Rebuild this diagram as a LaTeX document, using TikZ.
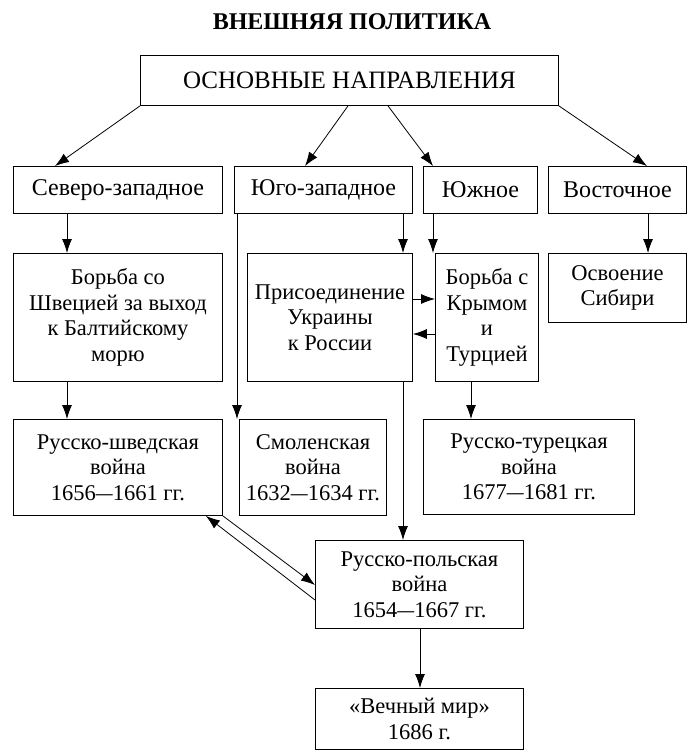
\documentclass[tikz,border=0pt]{standalone}
\usepackage{fontspec}
\usepackage{graphicx}
\setmainfont{Liberation Serif}
\usetikzlibrary{arrows.meta}
\newcommand{\ydash}{\scalebox{0.75}[1]{—}}
\begin{document}
\begin{tikzpicture}[x=1pt,y=-1pt,
  box/.style={draw, line width=0.9pt, inner sep=0pt, align=center, anchor=north west,
    font=\fontsize{22.5}{25.5}\selectfont},
  dirbox/.style={box, minimum height=47pt, font=\fontsize{24}{26}\selectfont},
  arr/.style={line width=0.8pt, -{Latex[length=14pt,width=10pt]}},
  ttl/.style={font=\fontsize{24}{28}\selectfont\bfseries}]
\useasboundingbox[fill=white] (0,0) rectangle (689,754);
\node[ttl] (title) at (352,22) {ВНЕШНЯЯ ПОЛИТИКА};
\node[box, minimum width=418pt, minimum height=50pt, font=\fontsize{25}{28}\selectfont] (main) at (140,55) {ОСНОВНЫЕ НАПРАВЛЕНИЯ};
\node[dirbox, minimum width=209pt] (nw) at (13,166) {Северо-западное};
\node[dirbox, minimum width=178pt] (sw) at (234,166) {Юго-западное};
\node[dirbox, minimum width=114pt] (s) at (423,166) {Южное};
\node[dirbox, minimum width=138pt] (e) at (548,166) {Восточное};
\node[box, minimum width=209pt, minimum height=128pt] (b1) at (13,253) {Борьба со\\Швецией за выход\\к Балтийскому\\морю};
\node[box, minimum width=165pt, minimum height=128pt] (b2) at (247,253) {Присоединение\\Украины\\к России};
\node[box, minimum width=103pt, minimum height=128pt] (b3) at (435,253) {Борьба с\\Крымом\\и\\Турцией};
\node[box, minimum width=138pt, minimum height=69pt] (b4) at (548,253) {Освоение\\Сибири};
\node[box, minimum width=209pt, minimum height=96pt] (r1) at (13,419) {Русско-шведская\\война\\1656\ydash1661 гг.};
\node[box, minimum width=147pt, minimum height=96pt] (r2) at (239,419) {Смоленская\\война\\1632\ydash1634 гг.};
\node[box, minimum width=211pt, minimum height=95pt] (r3) at (423,419) {Русско-турецкая\\война\\1677\ydash1681 гг.};
\node[box, minimum width=208pt, minimum height=88pt] (r4) at (315,540) {Русско-польская\\война\\1654\ydash1667 гг.};
\node[box, minimum width=208pt, minimum height=61pt] (r5) at (315,688) {«Вечный мир»\\1686 г.};
% connectors
\draw[arr] (main.south west) -- ([xshift=42pt]nw.north west);
\draw[arr] ([xshift=208pt]main.south west) -- ([xshift=71pt]sw.north west);
\draw[arr] ([xshift=248pt]main.south west) -- ([xshift=10pt]s.north west);
\draw[arr] (main.south east) -- ([xshift=99pt]e.north west);
\draw[arr] ([xshift=54pt]nw.south west) -- ([xshift=54pt]b1.north west);
\draw[arr] ([xshift=169pt]sw.south west) -- ([xshift=156pt]b2.north west);
\draw[arr] ([xshift=10pt]s.south west) -- ([xshift=-2pt]b3.north west);
\draw[arr] ([xshift=100pt]e.south west) -- ([xshift=100pt]b4.north west);
\draw[arr] ([xshift=54pt]b1.south west) -- ([xshift=54pt]r1.north west);
\draw[arr] ([xshift=36pt]b3.south west) -- ([xshift=48pt]r3.north west);
\draw[arr] ([xshift=3pt]sw.south west) -- ([xshift=-2pt]r2.north west);
\draw[arr] ([xshift=156pt]b2.south west) -- ([xshift=88pt]r4.north west);
\draw[arr] ([xshift=105pt]r4.south west) -- ([xshift=105pt]r5.north west);
\draw[arr] ([yshift=-46pt]b2.north east) -- ([yshift=-46pt]b3.north west);
\draw[arr] ([yshift=-81pt]b3.north west) -- ([yshift=-81pt]b2.north east);
\draw[arr] (r1.south east) -- ([yshift=-45pt]r4.north west);
\draw[arr] ([yshift=-60pt]r4.north west) -- ([xshift=-17pt]r1.south east);
\end{tikzpicture}
\end{document}
